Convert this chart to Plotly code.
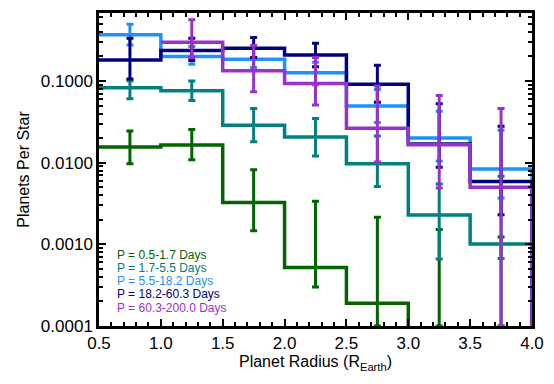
import plotly.graph_objects as go

# ---------------- data ----------------
bin_edges = [0.5, 1.0, 1.5, 2.0, 2.5, 3.0, 3.5, 4.0]
bin_centers = [0.75, 1.25, 1.75, 2.25, 2.75, 3.25, 3.75]

labels = ["P = 0.5-1.7 Days", "P = 1.7-5.5 Days", "P = 5.5-18.2 Days",
          "P = 18.2-60.3 Days", "P = 60.3-200.0 Days"]
colors = ["#006400", "#008080", "#1E90FF", "#000080", "#9932CC"]

green_val = [0.0156, 0.0165, 0.00325, 0.00052, 0.00019, 0.0, 0.0]
green_hi = [0.0245, 0.0255, 0.0082, 0.00337, 0.00214, 0.00152, 0.00123]
green_lo = [0.0097, 0.0109, 0.00147, 0.00030, 0.0001, 0.0001, 0.0001]

teal_val = [0.0828, 0.0760, 0.0288, 0.0206, 0.0097, 0.00229, 0.00101]
teal_hi = [0.101, 0.100, 0.0461, 0.0347, 0.0212, 0.0055, 0.0068]
teal_lo = [0.0605, 0.0578, 0.0181, 0.0121, 0.0051, 0.00066, 0.00067]

blue_val = [0.368, 0.199, 0.185, 0.126, 0.0493, 0.0201, 0.00836]
blue_hi = [0.497, 0.264, 0.250, 0.170, 0.079, 0.0427, 0.025]
blue_lo = [0.277, 0.160, 0.146, 0.090, 0.031, 0.0105, 0.0037]

navy_val = [0.181, 0.236, 0.252, 0.209, 0.091, 0.0169, 0.0059]
navy_hi = [0.335, 0.335, 0.341, 0.291, 0.156, 0.0526, 0.028]
navy_lo = [0.106, 0.178, 0.194, 0.150, 0.055, 0.0088, 0.0023]

purple_val = [None, 0.299, 0.134, 0.093, 0.0264, 0.0166, 0.0050]
purple_hi = [None, 0.562, 0.272, 0.194, 0.0868, 0.0667, 0.046]
purple_lo = [None, 0.194, 0.074, 0.0507, 0.0102, 0.0049, 0.0001]

x_tick_vals = [0.5, 1.0, 1.5, 2.0, 2.5, 3.0, 3.5, 4.0]
x_tick_labels = ["0.5", "1.0", "1.5", "2.0", "2.5", "3.0", "3.5", "4.0"]
y_tick_vals = [0.0001, 0.001, 0.01, 0.1]
y_tick_labels = ["0.0001", "0.0010", "0.0100", "0.1000"]

series = [
    (green_val, green_hi, green_lo),
    (teal_val, teal_hi, teal_lo),
    (blue_val, blue_hi, blue_lo),
    (navy_val, navy_hi, navy_lo),
    (purple_val, purple_hi, purple_lo),
]

FLOOR = 1e-7  # stands in for zero on the log axis (below visible range)

fig = go.Figure()
for (vals, his, los), col in zip(series, colors):
    # histogram steps
    sx = list(bin_edges[:-1]) + [bin_edges[-1]]
    sy = [None if v is None else (v if v > 0 else FLOOR) for v in vals] + [FLOOR]
    fig.add_trace(go.Scatter(x=sx, y=sy, mode="lines", line_shape="hv",
                             line=dict(color=col, width=3.5),
                             connectgaps=False, hoverinfo="skip"))
    # error bars
    ex, ey, up, dn = [], [], [], []
    for c, v, h, l in zip(bin_centers, vals, his, los):
        if v is None:
            continue
        center = v if v > 0 else l
        ex.append(c)
        ey.append(center)
        up.append(h - center)
        dn.append(center - l)
    fig.add_trace(go.Scatter(x=ex, y=ey, mode="markers",
                             marker=dict(size=1, color="rgba(0,0,0,0)"),
                             error_y=dict(type="data", symmetric=False, array=up,
                                          arrayminus=dn, color=col, thickness=3,
                                          width=3.5),
                             hoverinfo="skip"))

# page body has an 8px margin: figure is shrunk so that the plot area lands
# at the same place in the 554x384 window as in the reference
W, H = 546, 376
ML, MR, MT, MB = 91, 22, 5, 58
plot_h = H - MT - MB
for i, (lab, col) in enumerate(zip(labels, colors)):
    py = 254.5 + 13.3 * i - 8 - MT   # pixel offset inside plot area
    fig.add_annotation(text=lab, xref="paper", yref="paper",
                       x=0.037, y=1 - py / plot_h,
                       xanchor="left", yanchor="middle", showarrow=False,
                       font=dict(size=12, color=col,
                                 family="Liberation Sans, Arial, sans-serif"))

minor_y = [m * 10 ** e for e in range(-4, 0) for m in range(2, 10)]

fig.update_layout(
    width=W, height=H,
    margin=dict(l=ML, r=MR, t=MT, b=MB),
    paper_bgcolor="white", plot_bgcolor="white",
    showlegend=False,
    font=dict(family="Liberation Sans, Arial, sans-serif", color="black"),
    xaxis=dict(range=[0.5, 4.0], tickmode="array", tickvals=x_tick_vals,
               ticktext=x_tick_labels, ticks="inside", ticklen=7, tickwidth=2,
               tickcolor="black", showline=True, linewidth=2.5, linecolor="black",
               mirror="allticks", showgrid=False, zeroline=False, automargin=False,
               tickfont=dict(size=17),
               minor=dict(tickmode="linear", tick0=0.5, dtick=0.1, ticks="inside",
                          ticklen=4, tickwidth=1.5, tickcolor="black", showgrid=False),
               title=dict(text="Planet Radius (R<sub>Earth</sub>)",
                          font=dict(size=16), standoff=0)),
    yaxis=dict(type="log", range=[-4, -0.167], tickmode="array",
               tickvals=y_tick_vals, ticktext=y_tick_labels, ticks="inside",
               ticklen=7, tickwidth=2, tickcolor="black", showline=True,
               linewidth=2.5, linecolor="black", mirror="allticks", automargin=False,
               showgrid=False, zeroline=False, tickfont=dict(size=17),
               minor=dict(tickmode="array", tickvals=minor_y, ticks="inside",
                          ticklen=4, tickwidth=1.5, tickcolor="black", showgrid=False),
               title=dict(text="Planets Per Star", font=dict(size=16), standoff=8)),
)

fig.write_html("out.html")
